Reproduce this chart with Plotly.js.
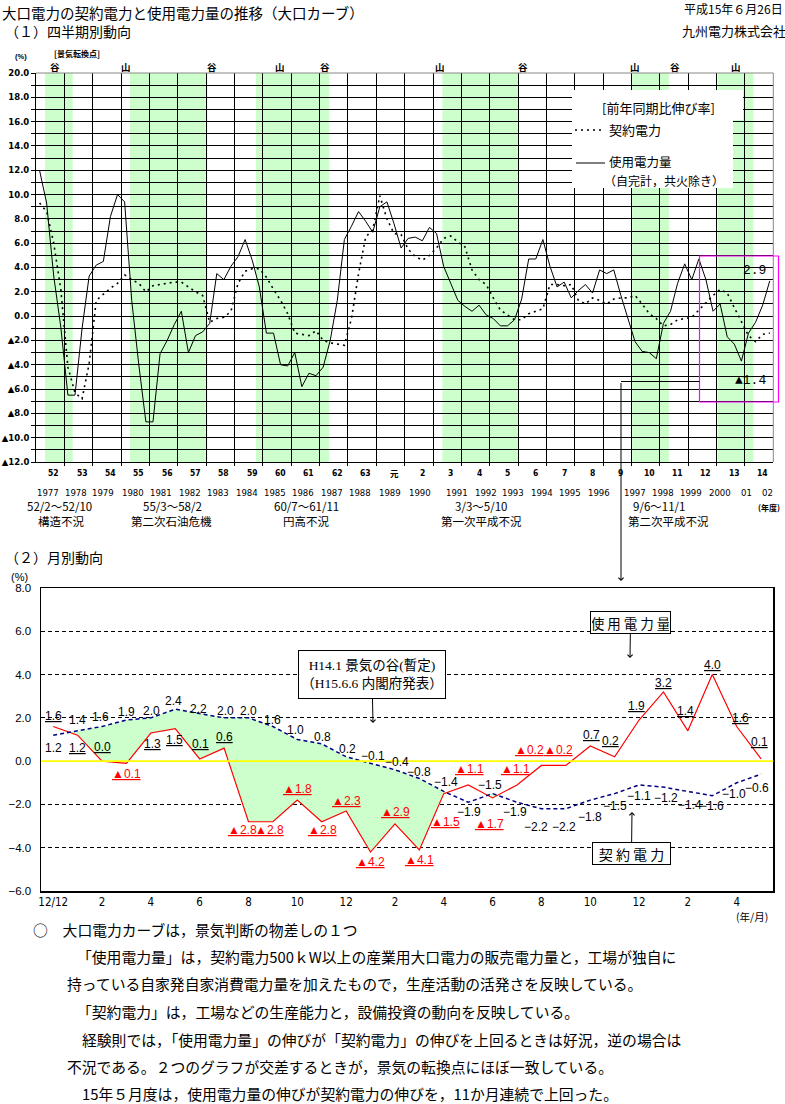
<!DOCTYPE html>
<html lang="ja"><head><meta charset="utf-8">
<script src="https://cdn.plot.ly/plotly-3.0.1.min.js"></script>
<style>html,body{margin:0;padding:0;background:#fff;overflow:hidden}#chart{width:785px;height:1104px}</style>
</head><body><div id="chart"></div><script>
// ================= DATA =================
const fiscalYearsJP = ['52','53','54','55','56','57','58','59','60','61','62','63','元','2','3','4','5','6','7','8','9','10','11','12','13','14'];
const fiscalYearsAD = ['1977','1978','1979','1980','1981','1982','1983','1984','1985','1986','1987','1988','1989','1990','1991','1992','1993','1994','1995','1996','1997','1998','1999','2000','01','02'];
// quarterly, y/y growth (%), FY52 Q1 .. FY14 Q4
const quarterUsage = [
 12.0, 9.3, 3.3, -0.9,   -6.5, -6.5, -1.0, 3.3,   4.2, 4.5, 8.2, 10.0,   9.4, 1.3, -4.0, -8.7,
 -8.7, -3.1, -2.0, -0.7,  0.4, -3.0, -1.6, -1.3,  -0.6, 3.5, 3.0, 4.1,   4.9, 6.3, 4.6, 2.4,
 -1.4, -1.4, -4.0, -4.1, -3.0, -5.8, -4.7, -4.9,  -4.2, -2.0, 1.3, 6.3,   7.4, 8.6, 7.8, 6.9,
 9.0, 9.4, 7.6, 5.6,      6.4, 6.5, 6.2, 7.3,      6.8, 4.1, 2.7, 1.3,    0.8, 0.4, 0.9, 0.1,
 -0.2, -0.8, -0.8, -0.3,  1.4, 4.7, 4.7, 6.3,      4.1, 2.4, 2.8, 1.5,    2.1, 2.6, 1.9, 3.8,
 3.5, 3.8, 1.7, -0.2,    -2.1, -2.9, -3.0, -3.5,  -0.6, 0.4, 2.7, 4.3,   3.0, 4.7, 3.0, 0.4,
 1.0, -1.7, -2.3, -3.7,  -1.4, -0.5, 0.9, 2.9];
const quarterContract = [
 9.3, 8.6, 6.0, 2.2,     -4.2, -6.3, -6.8, -3.9,   1.3, 1.8, 2.3, 2.7,   3.4, 3.0, 2.7, 2.0,
 2.5, 2.6, 2.7, 2.8,      2.8, 2.4, 2.0, 1.7,     -0.5, -0.2, -0.1, 0.4,  2.7, 3.7, 3.9, 3.9,
 3.2, 2.2, 1.3, 0.2,     -1.4, -1.5, -1.6, -1.2,  -2.0, -2.2, -2.3, -2.4, -0.2, 3.5, 6.5, 7.1,
 9.9, 8.0, 6.8, 6.7,      5.5, 4.9, 4.6, 5.0,      5.6, 6.4, 6.6, 6.1,    5.7, 3.8, 3.0, 2.6,
 1.5, 0.5, 0.1, -0.3,    -0.3, 0.2, 0.4, 0.6,      2.6, 2.6, 2.5, 2.6,    1.3, 1.0, 1.5, 1.3,
 1.0, 1.4, 1.5, 1.5,      1.7, 1.0, 0.2, -0.2,    -0.8, -0.7, -0.3, -0.2, -0.1, 0.5, 1.1, 1.7,
 2.2, 1.9, 0.7, -0.4,    -1.6, -2.1, -1.5, -1.4];
// recession shading (in quarter units from FY52 Q1)
const recessionStart = [0.77, 12.76, 30.53, 56.81, 83.6, 95.67];
const recessionEnd   = [4.68, 23.69, 40.87, 67.53, 88.8, 100.7];
const turnLabels = ['谷','山','谷','山','谷','山','谷','山','谷','山'];
const turnAt     = [2.2, 12.2, 24.3, 33.9, 40.3, 56.5, 68.2, 84.0, 89.6, 98.2];
const recessionPeriods = ['52/2～52/10','55/3～58/2','60/7～61/11','3/3～5/10','9/6～11/1'];
const recessionNames   = ['構造不況','第二次石油危機','円高不況','第一次平成不況','第二次平成不況'];
const lastUsageLabel = '2.9';
const lastContractLabel = '▲1.4';
// monthly, H12/12 .. H15/5
const monthTickText = ['12/12','2','4','6','8','10','12','2','4','6','8','10','12','2','4'];
const monthlyUsage    = [1.6,1.2,0.0,-0.1,1.3,1.5,0.1,0.6,-2.8,-2.8,-1.8,-2.8,-2.3,-4.2,-2.9,-4.1,-1.5,-1.1,-1.7,-1.1,-0.2,-0.2,0.7,0.2,1.9,3.2,1.4,4.0,1.6,0.1];
const monthlyContract = [1.2,1.4,1.6,1.9,2.0,2.4,2.2,2.0,2.0,1.6,1.0,0.8,0.2,-0.1,-0.4,-0.8,-1.4,-1.9,-1.5,-1.9,-2.2,-2.2,-1.8,-1.5,-1.1,-1.2,-1.4,-1.6,-1.0,-0.6];

// ================= LAYOUT HELPERS =================
const W = 785, H = 1104;
const px = x => x / W, py = y => 1 - y / H;
const JP = "'Noto Sans CJK JP', sans-serif";
const SANS = "'Liberation Sans', Arial, sans-serif";
const NARROW = "'Liberation Sans Narrow', 'DejaVu Sans Condensed', sans-serif";
const SERIF = "'Liberation Serif', 'Noto Sans CJK JP', serif";
const GREEN = '#ccffcc';

// label offsets (px) for monthly data labels
const redDx = [0,0,0,0,2,-1,1,0,-6,-3,0,1,0,0,1,0,2,1,-3,-2,-12,-7,1,-4,-3,0,-2,0,4,-2];
const redDy = [11,-13,14,-11,-11,-11.5,15,11,-8,-8,11,-8,10,-10,12,-10,-28,15.5,-26.5,15.5,15,15,11,16,14,9,20,10,9,17];
const blueDx = [0,0,-2,0,1,-2,-1,1,0,0,-2,1,1,2,2,0,2,1,-3,-2,-5,-2,0,0,0,3,2,0,-3,-4];
const blueDy = [-13,11,10,8,7,8,5,7,7,7,10,7,8,7,8,6,9,-10,8.5,-10,-18,-18,-17,-12.5,-11,-11,-14,-10,-11,-14];
const adYearX = [48,76,103,133,161,190,218,247,275,303,332,360,390,420,457,486,513,542,570,599,635,663,691,720,746,767];
const periodX = [2.88, 18.75, 37.68, 62.27, 87.37];
const nameX   = [3.12, 18.68, 37.72, 62.36, 88.71];

const qx = quarterUsage.map((_, i) => i);
const mx = monthlyUsage.map((_, i) => i);

// fill regions where contract > usage
function regions(xs, up, lo) {
  const out = []; let cur = null;
  for (let i = 0; i < xs.length; i++) {
    const d = up[i] - lo[i];
    if (i > 0) {
      const dp = up[i-1] - lo[i-1];
      if ((dp > 0) !== (d > 0) && dp !== d) {
        const t = dp / (dp - d);
        const xc = xs[i-1] + t * (xs[i] - xs[i-1]);
        const yc = lo[i-1] + t * (lo[i] - lo[i-1]);
        if (cur) { cur.u.push([xc, yc]); cur.l.push([xc, yc]); out.push(cur); cur = null; }
        else { cur = {u: [[xc, yc]], l: [[xc, yc]]}; }
      }
    }
    if (d > 0) { if (!cur) cur = {u: [], l: []}; cur.u.push([xs[i], up[i]]); cur.l.push([xs[i], lo[i]]); }
  }
  if (cur) out.push(cur);
  return out.map(r => { const p = r.u.concat(r.l.slice().reverse()); return {x: p.map(q => q[0]), y: p.map(q => q[1])}; });
}

// ================= TRACES =================
const traces = [
  {x: qx, y: quarterUsage, xaxis: 'x', yaxis: 'y', mode: 'lines', line: {color: '#000', width: 1}, hoverinfo: 'skip'},
  {x: qx, y: quarterContract, xaxis: 'x', yaxis: 'y', mode: 'lines', line: {color: '#000', width: 1.6, dash: '2px,4px'}, hoverinfo: 'skip'}
];
regions(mx, monthlyContract, monthlyUsage).forEach(r => traces.push({
  x: r.x, y: r.y, xaxis: 'x2', yaxis: 'y2', mode: 'lines', fill: 'toself', fillcolor: GREEN, line: {width: 0, color: GREEN}, hoverinfo: 'skip'
}));
traces.push({x: mx, y: monthlyUsage, xaxis: 'x2', yaxis: 'y2', mode: 'lines', line: {color: '#ff0000', width: 1.2}, hoverinfo: 'skip'});
traces.push({x: mx, y: monthlyContract, xaxis: 'x2', yaxis: 'y2', mode: 'lines', line: {color: '#000080', width: 1.5, dash: '4px,3px'}, hoverinfo: 'skip'});

// ================= AXES =================
const yTopVals = []; for (let v = -12; v <= 20; v++) yTopVals.push(v);
const yTopText = yTopVals.map(v => v % 2 ? '' : (v < 0 ? '▲' + Math.abs(v).toFixed(1) : v.toFixed(1)));
const fyBounds = fiscalYearsJP.slice(1).map((_, k) => 4 * (k + 1) - 0.5);
const y2Vals = [-6, -4, -2, 0, 2, 4, 6, 8];
const y2Text = y2Vals.map(v => (v < 0 ? '−' : '') + Math.abs(v).toFixed(1));
const mTickVals = monthTickText.map((_, i) => 2 * i);

// ================= SHAPES =================
const shapes = [];
recessionStart.forEach((s, i) => shapes.push({type: 'rect', xref: 'x', yref: 'y domain', x0: s, x1: recessionEnd[i], y0: 0, y1: 1, fillcolor: GREEN, line: {width: 0}, layer: 'below'}));
shapes.push({type: 'line', xref: 'x domain', yref: 'y domain', x0: 1, x1: 1, y0: 0, y1: 1, line: {color: '#888', width: 1}});
shapes.push({type: 'line', xref: 'x domain', yref: 'y domain', x0: 0, x1: 1, y0: 1, y1: 1, line: {color: '#888', width: 1}});
// legend backgrounds
shapes.push({type: 'rect', xref: 'paper', yref: 'paper', x0: px(572), x1: px(743), y0: py(120), y1: py(90), fillcolor: '#fff', line: {width: 0}, layer: 'above'});
shapes.push({type: 'rect', xref: 'paper', yref: 'paper', x0: px(572), x1: px(733), y0: py(188), y1: py(119), fillcolor: '#fff', line: {width: 0}, layer: 'above'});
shapes.push({type: 'line', xref: 'paper', yref: 'paper', x0: px(575), x1: px(604), y0: py(130), y1: py(130), line: {color: '#000', width: 1.6, dash: '2px,4px'}});
shapes.push({type: 'line', xref: 'paper', yref: 'paper', x0: px(576), x1: px(605), y0: py(163), y1: py(163), line: {color: '#000', width: 1}});
// magenta highlight & connector
shapes.push({type: 'rect', xref: 'paper', yref: 'paper', x0: px(699.5), x1: px(778.5), y0: py(402), y1: py(256), line: {color: '#ff00ff', width: 1.2}, fillcolor: 'rgba(0,0,0,0)'});
shapes.push({type: 'line', xref: 'paper', yref: 'paper', x0: px(621), x1: px(699.5), y0: py(381.5), y1: py(381.5), line: {color: '#000', width: 1}});
// monthly zero line
shapes.push({type: 'line', xref: 'x2 domain', yref: 'y2', x0: 0, x1: 1, y0: 0, y1: 0, line: {color: '#ffff00', width: 1.6}, layer: 'above'});

// ================= ANNOTATIONS =================
const ann = [];
const T = (x, y, text, size, opt = {}) => ann.push(Object.assign({xref: 'paper', yref: 'paper', x: px(x), y: py(y), text, showarrow: false, xanchor: 'left', yanchor: 'middle', font: {family: JP, size, color: '#000'}}, opt));

T(0, 0.5, '大口電力の契約電力と使用電力量の推移（大口カーブ）', 14.5, {yanchor: 'top'});
T(682, 9, '平成15年６月26日', 12);
T(680, 31, '九州電力株式会社', 13);
T(3, 31, '（１）四半期別動向', 14);
T(13, 56, '(%)', 7.5, {font: {family: SANS, size: 7.5, weight: 'bold'}});
T(52, 54, '[景気転換点]', 8, {font: {family: JP, size: 8, weight: 'bold'}});
turnLabels.forEach((t, i) => ann.push({xref: 'x', yref: 'paper', x: turnAt[i], y: py(67.5), text: t, showarrow: false, xanchor: 'center', yanchor: 'middle', font: {family: JP, size: 9.5, weight: 'bold'}}));
fiscalYearsJP.forEach((t, k) => ann.push({xref: 'x', yref: 'paper', x: 4 * k + 2, y: py(473), text: t, showarrow: false, xanchor: 'center', yanchor: 'middle', font: {family: t === '元' ? JP : NARROW, size: 8.5, weight: 'bold'}}));
fiscalYearsAD.forEach((t, k) => ann.push({xref: 'paper', yref: 'paper', x: px(adYearX[k]), y: py(493), text: t, showarrow: false, xanchor: 'center', yanchor: 'middle', font: {family: NARROW, size: 9.5}}));
T(769, 507, '(年度)', 8, {xanchor: 'center', font: {family: JP, size: 8, weight: 'bold'}});
recessionPeriods.forEach((t, k) => ann.push({xref: 'x', yref: 'paper', x: periodX[k], y: py(506), text: t, showarrow: false, xanchor: 'center', yanchor: 'middle', font: {family: JP, size: 11.5}}));
recessionNames.forEach((t, k) => ann.push({xref: 'x', yref: 'paper', x: nameX[k], y: py(521), text: t, showarrow: false, xanchor: 'center', yanchor: 'middle', font: {family: JP, size: 11.5}}));
// legend texts
T(658, 107, '[前年同期比伸び率]', 13, {xanchor: 'center'});
T(607, 129, '契約電力', 13);
T(607, 162, '使用電力量', 12.5);
T(602, 180, '（自完計，共火除き）', 12);
T(768, 270, lastUsageLabel, 13, {xanchor: 'right', font: {family: "'Liberation Mono', monospace", size: 13}});
T(768, 381, lastContractLabel, 13, {xanchor: 'right', font: {family: "'Liberation Mono', 'DejaVu Sans Mono', monospace", size: 13}});
// connector arrow to monthly chart
ann.push({xref: 'paper', yref: 'paper', x: px(621), y: py(581), ax: 0, ay: -199.5, text: '', showarrow: true, arrowhead: 4, arrowsize: 1, arrowwidth: 1, arrowcolor: '#000'});

// monthly panel
T(3, 557, '（２）月別動向', 14);
T(9, 577, '(%)', 11, {font: {family: SANS, size: 11}});
T(752, 916, '(年/月)', 10.5, {xanchor: 'center', font: {family: JP, size: 10.5}});
const U = (t) => `<span style="text-decoration:underline">${t}</span>`;
monthlyUsage.forEach((v, i) => {
  const neg = v < 0;
  ann.push({xref: 'x2', yref: 'y2', x: i, y: v, text: U(neg ? '▲' + Math.abs(v).toFixed(1) : v.toFixed(1)), showarrow: false,
    xanchor: 'center', yanchor: 'middle', xshift: redDx[i], yshift: redDy[i], font: {family: SANS, size: 12, color: neg ? '#ff0000' : '#000'}});
});
monthlyContract.forEach((v, i) => {
  ann.push({xref: 'x2', yref: 'y2', x: i, y: v, text: (v < 0 ? '−' : '') + Math.abs(v).toFixed(1), showarrow: false,
    xanchor: 'center', yanchor: 'middle', xshift: blueDx[i], yshift: blueDy[i], font: {family: SANS, size: 12, color: '#000'}});
});
const boxA = {showarrow: true, arrowhead: 4, arrowsize: 1, arrowwidth: 1, arrowcolor: '#000', bordercolor: '#000', borderwidth: 1, bgcolor: '#fff', xref: 'paper', yref: 'paper'};
ann.push(Object.assign({}, boxA, {x: px(373), y: py(723), ax: -1, ay: -48.5, width: 144, height: 45, text: 'H14.1 景気の谷(暫定)<br>（H15.6.6 内閣府発表）', font: {family: SERIF, size: 13.5, color: '#000'}}));
ann.push(Object.assign({}, boxA, {x: px(630), y: py(658), ax: 0.5, ay: -36, width: 77, height: 19, text: '使 用 電 力 量', font: {family: JP, size: 13.5, color: '#000'}}));
ann.push(Object.assign({}, boxA, {x: px(632), y: py(812), ax: -0.5, ay: 41.5, width: 75, height: 19, text: '契 約 電 力', font: {family: JP, size: 14, color: '#000'}}));

// bottom notes
const notes = [
  ['○　大口電力カーブは，景気判断の物差しの１つ', 31, 929],
  ['「使用電力量」は，契約電力500ｋW以上の産業用大口電力の販売電力量と，工場が独自に', 75, 956],
  ['持っている自家発自家消費電力量を加えたもので，生産活動の活発さを反映している。', 65, 983],
  ['「契約電力」は，工場などの生産能力と，設備投資の動向を反映している。', 75, 1011],
  ['経験則では，「使用電力量」の伸びが「契約電力」の伸びを上回るときは好況，逆の場合は', 80, 1039],
  ['不況である。２つのグラフが交差するときが，景気の転換点にほぼ一致している。', 65, 1066],
  ['15年５月度は，使用電力量の伸びが契約電力の伸びを，11か月連続で上回った。', 80, 1093]
];
notes.forEach(n => T(n[1], n[2], n[0], 14.8));

// ================= LAYOUT =================
const layout = {
  width: W, height: H, margin: {l: 0, r: 0, t: 0, b: 0, pad: 0},
  paper_bgcolor: '#fff', plot_bgcolor: '#fff', showlegend: false,
  font: {family: JP, color: '#000'},
  xaxis: {domain: [px(36), px(773.3)], range: [-0.5, 103.5], anchor: 'y', tickmode: 'array', tickvals: fyBounds, showticklabels: false,
    showgrid: true, gridcolor: '#000', gridwidth: 1, ticks: 'outside', ticklen: 3, tickcolor: '#000', showline: true, linecolor: '#000', linewidth: 1, zeroline: false, fixedrange: true},
  yaxis: {domain: [py(462), py(73)], range: [-12, 20], anchor: 'x', tickmode: 'array', tickvals: yTopVals, ticktext: yTopText,
    showgrid: true, gridcolor: '#000', gridwidth: 1, ticks: 'outside', ticklen: 4, tickcolor: '#000', showline: true, linecolor: '#000', linewidth: 1, zeroline: false,
    tickfont: {family: "'DejaVu Sans', sans-serif", size: 8.5, weight: 'bold'}, fixedrange: true},
  xaxis2: {domain: [px(41), px(773.3)], range: [-0.5, 29.5], anchor: 'y2', tickmode: 'array', tickvals: mTickVals, ticktext: monthTickText,
    showgrid: false, ticks: '', showline: true, mirror: true, linecolor: '#000', linewidth: 1.5, zeroline: false, tickfont: {family: NARROW, size: 11.5}, fixedrange: true},
  yaxis2: {domain: [py(891), py(588)], range: [-6, 8], anchor: 'x2', tickmode: 'array', tickvals: y2Vals, ticktext: y2Text,
    showgrid: true, gridcolor: '#000', gridwidth: 1, griddash: '4px,3px', ticks: '', showline: true, mirror: true, linecolor: '#000', linewidth: 1.5, zeroline: false,
    ticklabelstandoff: 6, tickfont: {family: SANS, size: 11.5}, fixedrange: true},
  shapes, annotations: ann
};
Plotly.newPlot('chart', traces, layout, {staticPlot: true, displayModeBar: false});
</script></body></html>
